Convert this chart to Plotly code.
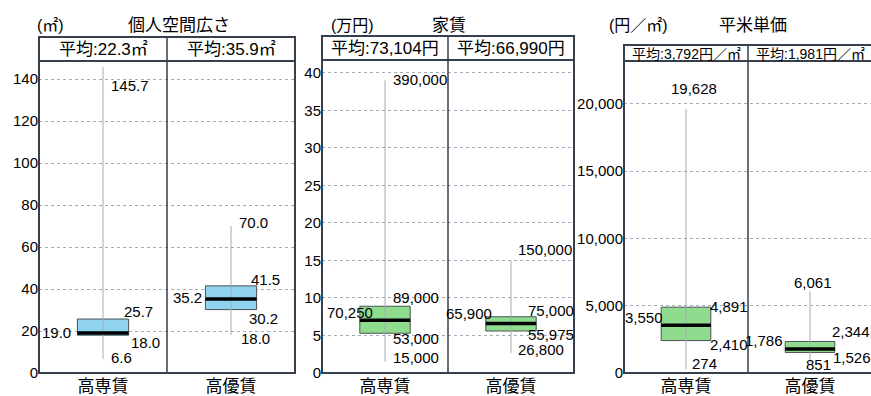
import plotly.graph_objects as go

# ---- data ---------------------------------------------------------------
categories = ["高専賃", "高優賃"]

# 個人空間広さ (㎡)
area_min = [6.6, 18.0]
area_q1 = [18.0, 30.2]
area_median = [19.0, 35.2]
area_q3 = [25.7, 41.5]
area_max = [145.7, 70.0]
area_mean = [22.3, 35.9]
area_ticks = [0, 20, 40, 60, 80, 100, 120, 140]

# 家賃 (円, plotted in 万円)
rent_min = [15000, 26800]
rent_q1 = [53000, 55975]
rent_median = [70250, 65900]
rent_q3 = [89000, 75000]
rent_max = [390000, 150000]
rent_mean = [73104, 66990]
rent_ticks = [0, 5, 10, 15, 20, 25, 30, 35, 40]

# 平米単価 (円/㎡)
unit_min = [274, 851]
unit_q1 = [2410, 1526]
unit_median = [3550, 1786]
unit_q3 = [4891, 2344]
unit_max = [19628, 6061]
unit_mean = [3792, 1981]
unit_ticks = [0, 5000, 10000, 15000, 20000]

# ---- canvas / style -----------------------------------------------------
W, H = 871, 396
FONT = "Liberation Sans, Arial, Noto Sans CJK JP, sans-serif"
FRAME = "#363f4c"
GRID = "#a3acb4"
BLUE = "#8fd3ef"
GREEN = "#8fdc8f"
BOX_W = 0.4


def px(x):
    return x / W


def py(y):
    return 1 - y / H


# panel frames in pixels
panels = [
    dict(left=39, unit=128, htop=37, hbot=61, bottom=373, yrange=(0, 148.6)),
    dict(left=322, unit=126, htop=36, hbot=60, bottom=373, yrange=(0, 41.73)),
    dict(left=624, unit=124, htop=45, hbot=61, bottom=373, yrange=(0, 23185)),
]

# label offsets (xshift, yshift, xanchor) for min, q1, median, q3, max, per box
offsets = [
    [
        dict(min=(6, 2, "left"), q1=(26, -7, "left"), median=(-30, 1, "right"),
             q3=(19, 8, "left"), max=(6, -18, "left")),
        dict(min=(8, -3, "left"), q1=(16, -9, "left"), median=(-27, 2, "right"),
             q3=(18, 6, "left"), max=(6, 4, "left")),
    ],
    [
        dict(min=(6, 4, "left"), q1=(6, -5, "left"), median=(-10, 8, "right"),
             q3=(6, 9, "left"), max=(6, 1, "left")),
        dict(min=(5, 3, "left"), q1=(15, -3, "left"), median=(-17, 10, "right"),
             q3=(15, 6, "left"), max=(5, 11, "left")),
    ],
    [
        dict(min=(4, 6, "left"), q1=(22, -4, "left"), median=(-21, 8, "right"),
             q3=(22, 1, "left"), max=(8, 20, "center")),
        dict(min=(-6, -3, "left"), q1=(21, -5, "left"), median=(-25, 8, "right"),
             q3=(20, 10, "left"), max=(3, 9, "center")),
    ],
]

series = [
    dict(stats=dict(min=area_min, q1=area_q1, median=area_median, q3=area_q3, max=area_max),
         scale=1, fmt=lambda v: f"{v:.1f}", fill=BLUE, ticks=area_ticks, tickformat="",
         header=lambda m: f"平均:{m}㎡", mean=area_mean, hsize=17,
         title="個人空間広さ", unit="(㎡)", title_x=179, unit_x=50),
    dict(stats=dict(min=rent_min, q1=rent_q1, median=rent_median, q3=rent_q3, max=rent_max),
         scale=1 / 10000, fmt=lambda v: f"{v:,}", fill=GREEN, ticks=rent_ticks, tickformat="",
         header=lambda m: f"平均:{m:,}円", mean=rent_mean, hsize=17,
         title="家賃", unit="(万円)", title_x=449, unit_x=352),
    dict(stats=dict(min=unit_min, q1=unit_q1, median=unit_median, q3=unit_q3, max=unit_max),
         scale=1, fmt=lambda v: f"{v:,}", fill=GREEN, ticks=unit_ticks, tickformat=",d",
         header=lambda m: f"平均:{m:,}円／㎡", mean=unit_mean, hsize=14,
         title="平米単価", unit="(円／㎡)", title_x=753, unit_x=638),
]

fig = go.Figure()
annotations = []
shapes = []
positions = [0.5, 1.5]

for i, (p, s) in enumerate(zip(panels, series)):
    n = "" if i == 0 else str(i + 1)
    xa, ya = "x" + n, "y" + n
    st = {k: [v * s["scale"] for v in vals] for k, vals in s["stats"].items()}

    for j, pos in enumerate(positions):
        # whisker from minimum to maximum
        fig.add_trace(go.Scatter(
            x=[pos, pos], y=[st["min"][j], st["max"][j]], mode="lines",
            line=dict(color=GRID, width=1), xaxis=xa, yaxis=ya,
            hoverinfo="skip", showlegend=False))
        # interquartile box
        fig.add_trace(go.Box(
            x=[pos], q1=[st["q1"][j]], median=[st["median"][j]], q3=[st["q3"][j]],
            lowerfence=[st["q1"][j]], upperfence=[st["q3"][j]],
            width=BOX_W, whiskerwidth=0, fillcolor=s["fill"],
            line=dict(color="#4a5258", width=1), xaxis=xa, yaxis=ya,
            showlegend=False, hoverinfo="skip"))
        # heavy median bar
        fig.add_trace(go.Scatter(
            x=[pos - BOX_W / 2, pos + BOX_W / 2], y=[st["median"][j]] * 2,
            mode="lines", line=dict(color="black", width=3.5),
            xaxis=xa, yaxis=ya, hoverinfo="skip", showlegend=False))

        for key in ["min", "q1", "median", "q3", "max"]:
            dx, dy, anchor = offsets[i][j][key]
            annotations.append(dict(
                x=pos, y=st[key][j], xref=xa, yref=ya,
                text=s["fmt"](s["stats"][key][j]), showarrow=False,
                xanchor=anchor, yanchor="middle", xshift=dx, yshift=dy,
                font=dict(family=FONT, size=15, color="black")))

        # header cell with the mean
        annotations.append(dict(
            x=pos, xref=xa, y=py((p["htop"] + p["hbot"]) / 2 + 0.5), yref="paper",
            text=s["header"](s["mean"][j]), showarrow=False,
            xanchor="center", yanchor="middle",
            font=dict(family=FONT, size=s["hsize"], color="black")))

    left = p["left"]
    right = left + 2 * p["unit"]
    mid = left + p["unit"]
    dom_right = min(right, W)
    x_hi = (dom_right - left) / p["unit"]

    fig.update_layout(**{
        ("xaxis" + n): dict(
            domain=[px(left), px(dom_right)], range=[0, x_hi], anchor=ya,
            tickvals=positions, ticktext=categories, showgrid=False, zeroline=False,
            showline=False, ticks="", ticklabelstandoff=1, automargin=False,
            tickfont=dict(family=FONT, size=17, color="black"), fixedrange=True),
        ("yaxis" + n): dict(
            domain=[py(p["bottom"]), py(p["hbot"])], range=list(p["yrange"]), anchor=xa,
            tickvals=s["ticks"], tickformat=s["tickformat"], showgrid=True,
            gridcolor=GRID, griddash="dot", gridwidth=1, zeroline=False, showline=False,
            ticks="", automargin=False,
            tickfont=dict(family=FONT, size=15, color="black"), fixedrange=True),
    })

    # frame: outer rectangle, header separator and category divider
    shapes.append(dict(type="rect", xref="paper", yref="paper",
                       x0=px(left), x1=px(right), y0=py(p["bottom"]), y1=py(p["htop"]),
                       line=dict(color=FRAME, width=2)))
    shapes.append(dict(type="line", xref="paper", yref="paper",
                       x0=px(left), x1=px(right), y0=py(p["hbot"]), y1=py(p["hbot"]),
                       line=dict(color=FRAME, width=2)))
    shapes.append(dict(type="line", xref="paper", yref="paper",
                       x0=px(mid), x1=px(mid), y0=py(p["bottom"]), y1=py(p["htop"]),
                       line=dict(color=FRAME, width=1.5)))

    # panel title and unit
    annotations.append(dict(x=px(s["title_x"]), y=py(25), xref="paper", yref="paper",
                            text=s["title"], showarrow=False, xanchor="center",
                            yanchor="middle",
                            font=dict(family=FONT, size=17, color="black")))
    annotations.append(dict(x=px(s["unit_x"]), y=py(25), xref="paper", yref="paper",
                            text=s["unit"], showarrow=False, xanchor="center",
                            yanchor="middle",
                            font=dict(family=FONT, size=16, color="black")))

fig.update_layout(
    width=W, height=H, margin=dict(l=0, r=0, t=0, b=0, autoexpand=False),
    paper_bgcolor="white", plot_bgcolor="white",
    showlegend=False, annotations=annotations, shapes=shapes,
    font=dict(family=FONT, color="black"),
)

fig.write_html("out.html", config={"displayModeBar": False})
